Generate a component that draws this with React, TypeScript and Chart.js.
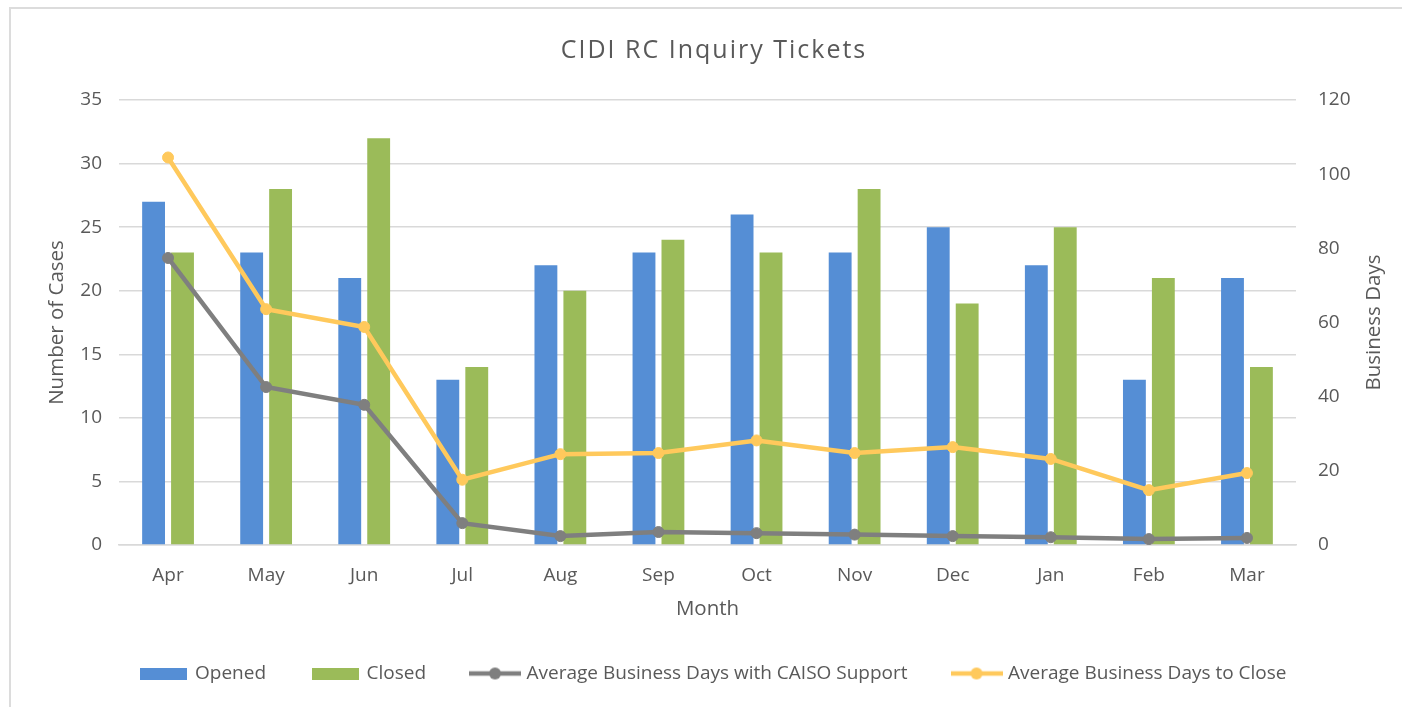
import React, { useEffect, useRef } from "react";
import { Chart, registerables } from "chart.js";

Chart.register(...registerables);

const TITLE = "CIDI RC Inquiry Tickets";
const X_TITLE = "Month";
const LEFT_TITLE = "Number of Cases";
const RIGHT_TITLE = "Business Days";

const months = ["Apr", "May", "Jun", "Jul", "Aug", "Sep", "Oct", "Nov", "Dec", "Jan", "Feb", "Mar"];
const opened = [27, 23, 21, 13, 22, 23, 26, 23, 25, 22, 13, 21];
const closed = [23, 28, 32, 14, 20, 24, 23, 28, 19, 25, 21, 14];
const avgDaysWithSupport = [77.4, 42.6, 37.8, 5.9, 2.4, 3.5, 3.2, 2.8, 2.4, 2.1, 1.6, 1.9];
const avgDaysToClose = [104.5, 63.6, 58.8, 17.6, 24.5, 24.8, 28.2, 24.8, 26.4, 23.2, 14.8, 19.4];

const seriesNames = ["Opened", "Closed", "Average Business Days with CAISO Support", "Average Business Days to Close"];
const leftTicks = { min: 0, max: 35, step: 5 };
const rightTicks = { min: 0, max: 120, step: 20 };

const BLUE = "#558ED5";
const GREEN = "#9BBB59";
const GRAY = "#7F7F7F";
const GOLD = "#FFC95C";
const TEXT = "#595959";
const GRID = "#D9D9D9";
const FONT = "'Open Sans'";

function barIcon(color: string) {
  const c = document.createElement("canvas");
  c.width = 47;
  c.height = 12;
  const g = c.getContext("2d")!;
  g.fillStyle = color;
  g.fillRect(0, 0, 47, 12);
  return c;
}

function lineIcon(color: string) {
  const c = document.createElement("canvas");
  c.width = 52;
  c.height = 14;
  const g = c.getContext("2d")!;
  g.strokeStyle = color;
  g.lineWidth = 4.5;
  g.beginPath();
  g.moveTo(0, 7);
  g.lineTo(52, 7);
  g.stroke();
  g.fillStyle = color;
  g.beginPath();
  g.arc(26, 7, 6, 0, Math.PI * 2);
  g.fill();
  return c;
}

export default function App() {
  const ref = useRef<HTMLCanvasElement>(null);

  useEffect(() => {
    if (!ref.current) return;
    const icons = [barIcon(BLUE), barIcon(GREEN), lineIcon(GRAY), lineIcon(GOLD)];

    const textPlugin = {
      id: "extraText",
      afterDraw(chart: any) {
        const { ctx, chartArea } = chart;
        const s = chart.scales.y2;
        ctx.save();
        // chart title (letter-spaced like the original)
        ctx.font = `25px ${FONT}`;
        ctx.fillStyle = TEXT;
        ctx.textAlign = "center";
        ctx.textBaseline = "alphabetic";
        (ctx as any).letterSpacing = "2px";
        ctx.fillText(TITLE, 714, 58);
        (ctx as any).letterSpacing = "0px";
        // right axis title, reading bottom to top
        ctx.translate(s.right - 18, (chartArea.top + chartArea.bottom) / 2);
        ctx.rotate(-Math.PI / 2);
        ctx.font = `20.5px ${FONT}`;
        ctx.textBaseline = "middle";
        ctx.fillText(RIGHT_TITLE, 0, 0);
        ctx.restore();
      },
    };

    const chart = new Chart(ref.current, {
      type: "bar",
      data: {
        labels: months,
        datasets: [
          {
            type: "bar",
            label: seriesNames[0],
            data: opened,
            backgroundColor: BLUE,
            yAxisID: "y",
            categoryPercentage: 0.59,
            barPercentage: 0.79,
            order: 3,
          },
          {
            type: "bar",
            label: seriesNames[1],
            data: closed,
            backgroundColor: GREEN,
            yAxisID: "y",
            categoryPercentage: 0.59,
            barPercentage: 0.79,
            order: 3,
          },
          {
            type: "line",
            label: seriesNames[2],
            data: avgDaysWithSupport,
            borderColor: GRAY,
            backgroundColor: GRAY,
            borderWidth: 4.5,
            pointRadius: 5.5,
            pointBorderWidth: 1,
            pointBackgroundColor: GRAY,
            pointBorderColor: GRAY,
            yAxisID: "y2",
            tension: 0,
            order: 2,
          },
          {
            type: "line",
            label: seriesNames[3],
            data: avgDaysToClose,
            borderColor: GOLD,
            backgroundColor: GOLD,
            borderWidth: 4.5,
            pointRadius: 5.5,
            pointBorderWidth: 1,
            pointBackgroundColor: GOLD,
            pointBorderColor: GOLD,
            yAxisID: "y2",
            tension: 0,
            order: 1,
          },
        ] as any,
      },
      options: {
        animation: false,
        responsive: false,
        maintainAspectRatio: false,
        layout: { padding: { left: 36, right: 10, top: 100, bottom: 14 } },
        font: { family: FONT } as any,
        plugins: {
          title: { display: false },
          tooltip: { enabled: false },
          legend: {
            display: true,
            position: "bottom",
            labels: {
              usePointStyle: true,
              pointStyleWidth: 44,
              padding: 47,
              color: TEXT,
              font: { family: FONT, size: 19 },
              generateLabels: (ch: any) =>
                ch.data.datasets.map((ds: any, i: number) => ({
                  text: ds.label,
                  pointStyle: icons[i],
                  fillStyle: "transparent",
                  strokeStyle: "transparent",
                  lineWidth: 0,
                  hidden: !ch.isDatasetVisible(i),
                  datasetIndex: i,
                  fontColor: TEXT,
                })),
            },
          },
        },
        scales: {
          x: {
            grid: { display: false },
            border: { display: true, color: GRID, width: 1.5 },
            ticks: { color: TEXT, font: { family: FONT, size: 19 }, padding: 11, maxRotation: 0 },
            title: {
              display: true,
              text: X_TITLE,
              color: TEXT,
              font: { family: FONT, size: 20.5 },
              padding: { top: 0, bottom: -4.5 },
            },
            afterFit: (s: any) => {
              s.height = 72;
            },
          },
          y: {
            position: "left",
            min: leftTicks.min,
            max: leftTicks.max,
            ticks: { stepSize: leftTicks.step, color: TEXT, font: { family: FONT, size: 19 }, padding: 17 },
            grid: { color: GRID, lineWidth: 1.5, drawTicks: false },
            border: { display: false },
            title: {
              display: true,
              text: LEFT_TITLE,
              color: TEXT,
              font: { family: FONT, size: 20.5 },
              padding: { top: 8.7, bottom: 0 },
            },
            afterFit: (s: any) => {
              s.width = 83;
            },
          },
          y2: {
            position: "right",
            min: rightTicks.min,
            max: rightTicks.max,
            ticks: { stepSize: rightTicks.step, color: TEXT, font: { family: FONT, size: 19 }, padding: 22 },
            grid: { display: false, drawTicks: false },
            border: { display: false },
            afterFit: (s: any) => {
              s.width = 96;
            },
          },
        },
      } as any,
      plugins: [textPlugin],
    });
    return () => chart.destroy();
  }, []);

  return (
    <div
      style={{
        position: "fixed",
        left: 0,
        top: 0,
        width: 1402,
        height: 707,
        overflow: "hidden",
        background: "#fff",
      }}
    >
      <div
        style={{
          position: "absolute",
          left: 9,
          top: 7,
          width: 1500,
          height: 800,
          borderTop: "2px solid #DCDCDC",
          borderLeft: "2px solid #DCDCDC",
        }}
      />
      <canvas ref={ref} width={1402} height={707} style={{ position: "absolute", left: 0, top: 0 }} />
    </div>
  );
}
